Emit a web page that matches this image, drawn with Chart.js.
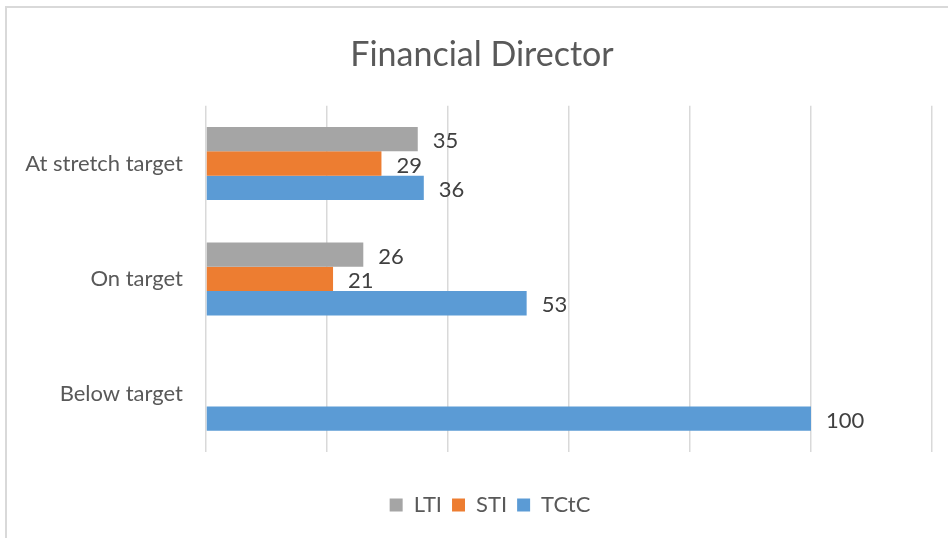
<!DOCTYPE html>
<html lang="en">
<head>
    <meta charset="UTF-8">
    <title>Financial Director</title>
    <script src="https://cdn.jsdelivr.net/npm/chart.js"></script>
    <style>
        body { margin: 0; overflow: hidden; background: #fff; }
        #wrap { position: relative; width: 948px; height: 538px; }
        #frame {
            position: absolute; left: 5px; top: 6px; width: 1000px; height: 1000px;
            border: 2px solid #d9d9d9; pointer-events: none;
        }
    </style>
</head>
<body>
    <div id="wrap">
        <canvas id="fdChart" width="948" height="538"></canvas>
        <div id="frame"></div>
    </div>
    <script>
        const categories = ['At stretch target', 'On target', 'Below target'];
        const ltiValues = [35, 26, null];
        const stiValues = [29, 21, null];
        const tctcValues = [36, 53, 100];
        const axisMin = 0;
        const axisMax = 120;
        const axisStep = 20;

        const FONT = 'Lato, "Open Sans", sans-serif';

        // numbers to the right of each bar
        const valueLabels = {
            id: 'valueLabels',
            afterDatasetsDraw(chart) {
                const ctx = chart.ctx;
                ctx.save();
                ctx.font = '22px ' + FONT;
                ctx.fillStyle = '#404040';
                ctx.textAlign = 'left';
                ctx.textBaseline = 'middle';
                chart.data.datasets.forEach((ds, i) => {
                    chart.getDatasetMeta(i).data.forEach((bar, j) => {
                        const v = ds.data[j];
                        if (v === null || v === undefined) return;
                        ctx.fillText(String(v), bar.x + 15, bar.y + 2);
                    });
                });
                ctx.restore();
            }
        };

        // the original sits in a wider frame, so title and legend are a bit right of centre
        const shiftBoxes = {
            id: 'shiftBoxes',
            afterLayout(chart) {
                if (chart.titleBlock) { chart.titleBlock.left += 16; chart.titleBlock.right += 16; }
                if (chart.legend) { chart.legend.left += 24; chart.legend.right += 24; }
            }
        };

        new Chart(document.getElementById('fdChart'), {
            type: 'bar',
            data: {
                labels: categories,
                datasets: [
                    { label: 'LTI', data: ltiValues, backgroundColor: '#a5a5a5' },
                    { label: 'STI', data: stiValues, backgroundColor: '#ed7d31' },
                    { label: 'TCtC', data: tctcValues, backgroundColor: '#5b9bd5' }
                ]
            },
            options: {
                indexAxis: 'y',
                responsive: false,
                animation: false,
                categoryPercentage: 0.633,
                barPercentage: 1,
                layout: { padding: { left: 0, right: 16, top: 0, bottom: 12 } },
                scales: {
                    x: {
                        min: axisMin,
                        max: axisMax,
                        ticks: { display: false, stepSize: axisStep },
                        grid: { color: '#d9d9d9', lineWidth: 1.5, drawTicks: false },
                        border: { display: false },
                        afterFit(scale) { scale.height = 32; }
                    },
                    y: {
                        ticks: { color: '#595959', font: { family: FONT, size: 22 }, padding: 23 },
                        grid: { display: false, drawTicks: false },
                        border: { display: false },
                        afterFit(scale) { scale.width = 206; }
                    }
                },
                plugins: {
                    title: {
                        display: true,
                        text: 'Financial Director',
                        color: '#595959',
                        font: { family: FONT, size: 34, weight: 'normal' },
                        padding: { top: 35, bottom: 30 }
                    },
                    legend: {
                        position: 'bottom',
                        labels: {
                            color: '#595959',
                            font: { family: FONT, size: 22 },
                            boxWidth: 13,
                            boxHeight: 13,
                            padding: 10
                        }
                    },
                    tooltip: { enabled: false }
                }
            },
            plugins: [valueLabels, shiftBoxes]
        });
    </script>
</body>
</html>
